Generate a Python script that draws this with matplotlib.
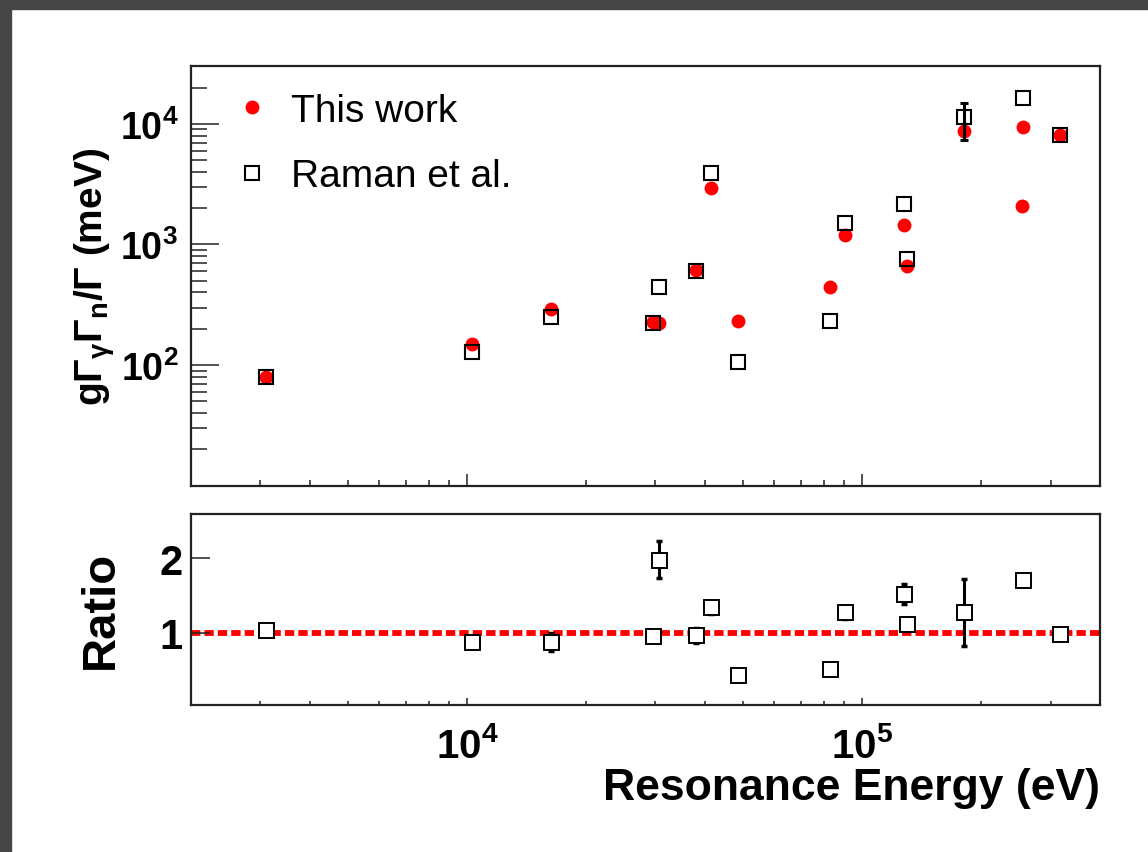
import matplotlib
matplotlib.use("Agg")
import matplotlib.pyplot as plt
from matplotlib.ticker import FixedLocator, FuncFormatter, NullFormatter, LogLocator
from matplotlib.patches import Rectangle
import numpy as np

# ---------------- data ----------------
energy_this = [3095, 10295, 16300, 29490, 30670, 37910, 41440, 48630, 83040,
               90600, 127700, 129900, 180900, 255000, 254000, 317600]
gamma_this = [79.3, 149.6, 291.6, 229, 222, 617, 2950, 232, 441,
              1196, 1448, 666, 8750, 9443, 2093, 8060]

energy_raman = [3095, 10295, 16300, 29490, 30670, 37910, 41440, 48630, 83040,
                90600, 127700, 129900, 180900, 255000, 317600]
gamma_raman = [80.2, 127.7, 249, 223, 446, 602, 3927, 105.5, 230.6,
               1504, 2174, 757, 11300, 16230, 8060]
raman_err_lo = [0, 0, 0, 0, 0, 0, 0, 0, 0, 0, 0, 0, 4000, 0, 0]
raman_err_hi = [0, 0, 0, 0, 0, 0, 0, 0, 0, 0, 0, 0, 3460, 0, 0]

ratio = [1.04, 0.87, 0.87, 0.96, 1.98, 0.965, 1.34, 0.435, 0.505,
         1.27, 1.52, 1.12, 1.27, 1.70, 0.98]
ratio_err = [0.03, 0.08, 0.12, 0.05, 0.25, 0.10, 0.09, 0.03, 0.03,
             0.09, 0.13, 0.08, 0.45, 0.03, 0.03]

legend_labels = ["This work", "Raman et al."]
ylabel_top = r"g$\Gamma_{\gamma}\Gamma_{n}/\Gamma$ (meV)"
ylabel_bottom = "Ratio"
xlabel = "Resonance Energy (eV)"

# ---------------- style ----------------
plt.rcParams["font.family"] = ["Liberation Sans", "DejaVu Sans"]
plt.rcParams["mathtext.fontset"] = "custom"
plt.rcParams["mathtext.rm"] = "Liberation Sans:bold"
plt.rcParams["mathtext.it"] = "Liberation Sans:bold"
plt.rcParams["mathtext.bf"] = "Liberation Sans:bold"

W, H = 1148, 853
fig = plt.figure(figsize=(W / 100, H / 100), dpi=100)
fig.patch.set_facecolor("white")

# slide frame
fig.patches.append(Rectangle((0, 1 - 10 / H), 1, 10 / H, transform=fig.transFigure,
                             color="#464646", zorder=0))
fig.patches.append(Rectangle((0, 0), 11 / W, 1, transform=fig.transFigure,
                             color="#464646", zorder=0))

def px_axes(l, t, r, b):
    return [l / W, 1 - b / H, (r - l) / W, (b - t) / H]

ax1 = fig.add_axes(px_axes(190.7, 67.3, 1100, 486.7))
ax2 = fig.add_axes(px_axes(190.7, 514.5, 1100, 705.7))

spine_col = "#222222"
for ax in (ax1, ax2):
    for s in ax.spines.values():
        s.set_linewidth(1.6)
        s.set_color(spine_col)
    ax.set_xscale("log")
    ax.set_xlim(2000, 4e5)

# ---------------- top panel ----------------
ax1.set_yscale("log")
ax1.set_ylim(10, 3e4)

h_this, = ax1.plot(energy_this, gamma_this, linestyle="none", marker="o",
                   markersize=10, color="#ff0000", markeredgewidth=0, zorder=2)

e_r = np.array(energy_raman, dtype=float)
g_r = np.array(gamma_raman, dtype=float)
elo = np.array(raman_err_lo, dtype=float)
ehi = np.array(raman_err_hi, dtype=float)
has_err = (elo + ehi) > 0
ax1.errorbar(e_r[has_err], g_r[has_err], yerr=[elo[has_err], ehi[has_err]], fmt="none",
             ecolor="black", elinewidth=2.2, capsize=3, capthick=2.2, zorder=2.5)
h_raman, = ax1.plot(energy_raman, gamma_raman, linestyle="none", marker="s",
                    markersize=9.8, markerfacecolor="none", markeredgecolor="black",
                    markeredgewidth=1.5, zorder=3)

ax1.yaxis.set_major_locator(FixedLocator([1e2, 1e3, 1e4]))
ax1.yaxis.set_minor_locator(LogLocator(base=10, subs=np.arange(2, 10)))
ax1.yaxis.set_major_formatter(FuncFormatter(lambda v, p: r"$\mathbf{10^{%d}}$" % round(np.log10(v))))
ax1.yaxis.set_minor_formatter(NullFormatter())
ax1.xaxis.set_major_locator(FixedLocator([1e4, 1e5]))
ax1.xaxis.set_minor_locator(LogLocator(base=10, subs=np.arange(2, 10)))
ax1.xaxis.set_major_formatter(NullFormatter())
ax1.xaxis.set_minor_formatter(NullFormatter())

ax1.tick_params(axis="y", which="major", direction="in", length=20, width=1.1,
                labelsize=27, pad=9, left=True, right=False, colors=spine_col, labelcolor="black")
ax1.tick_params(axis="y", which="minor", direction="in", length=11.5, width=1.1,
                left=True, right=False, colors=spine_col)
ax1.tick_params(axis="x", which="major", direction="in", length=8.6, width=1.1,
                bottom=True, top=False, colors=spine_col)
ax1.tick_params(axis="x", which="minor", direction="in", length=4, width=1.1,
                bottom=True, top=False, colors=spine_col)

ax1.set_ylabel(ylabel_top, fontsize=28, fontweight="bold")
ax1.yaxis.label.set_va("baseline")
ax1.yaxis.set_label_coords((103 - 190.7) / 909.3, 0.5)

ax1.legend([h_this, h_raman], legend_labels, loc="upper left",
           bbox_to_anchor=(232.5 / W, 1 - 94 / H), bbox_transform=fig.transFigure,
           frameon=False, fontsize=28, handlelength=1.0, handletextpad=0.5,
           borderpad=0, borderaxespad=0, labelspacing=0.75, numpoints=1)

# ---------------- ratio panel ----------------
ax2.set_ylim(0.03, 2.6)
ax2.axhline(1.0, color="#ff0000", linewidth=4.2, linestyle=(0, (1.6, 0.7)), zorder=1)
ax2.errorbar(energy_raman, ratio, yerr=ratio_err, fmt="none", ecolor="black",
             elinewidth=2.2, capsize=2.5, capthick=2.5, zorder=2)
ax2.plot(energy_raman, ratio, linestyle="none", marker="s", markersize=10.8,
         markerfacecolor="white", markeredgecolor="black", markeredgewidth=1.4, zorder=3)

ax2.yaxis.set_major_locator(FixedLocator([1, 2]))
ax2.yaxis.set_major_formatter(FuncFormatter(lambda v, p: "%d" % round(v)))
ax2.yaxis.set_minor_locator(FixedLocator([]))
ax2.xaxis.set_major_locator(FixedLocator([1e4, 1e5]))
ax2.xaxis.set_minor_locator(LogLocator(base=10, subs=np.arange(2, 10)))
ax2.xaxis.set_major_formatter(FuncFormatter(lambda v, p: r"$\mathbf{10^{%d}}$" % round(np.log10(v))))
ax2.xaxis.set_minor_formatter(NullFormatter())

ax2.tick_params(axis="y", which="major", direction="in", length=13.7, width=1.1,
                labelsize=30, pad=6, left=True, right=False, colors=spine_col, labelcolor="black")
for t in ax2.get_yticklabels():
    t.set_fontweight("bold")
ax2.tick_params(axis="x", which="major", direction="in", length=5, width=1.1,
                labelsize=29, pad=15.5, bottom=True, top=False, colors=spine_col, labelcolor="black")
ax2.tick_params(axis="x", which="minor", direction="in", length=2.6, width=1.1,
                bottom=True, top=False, colors=spine_col)

ax2.set_ylabel(ylabel_bottom, fontsize=34, fontweight="bold")
ax2.yaxis.label.set_va("baseline")
ax2.yaxis.set_label_coords((113 - 190.7) / 909.3, 0.5)

ax2.set_xlabel(xlabel, fontsize=32, fontweight="bold")
ax2.xaxis.label.set_ha("right")
ax2.xaxis.label.set_va("baseline")
ax2.xaxis.set_label_coords(1.0, (705.7 - 800) / 191.2)

fig.savefig("out.png", dpi=100, facecolor=fig.get_facecolor())
